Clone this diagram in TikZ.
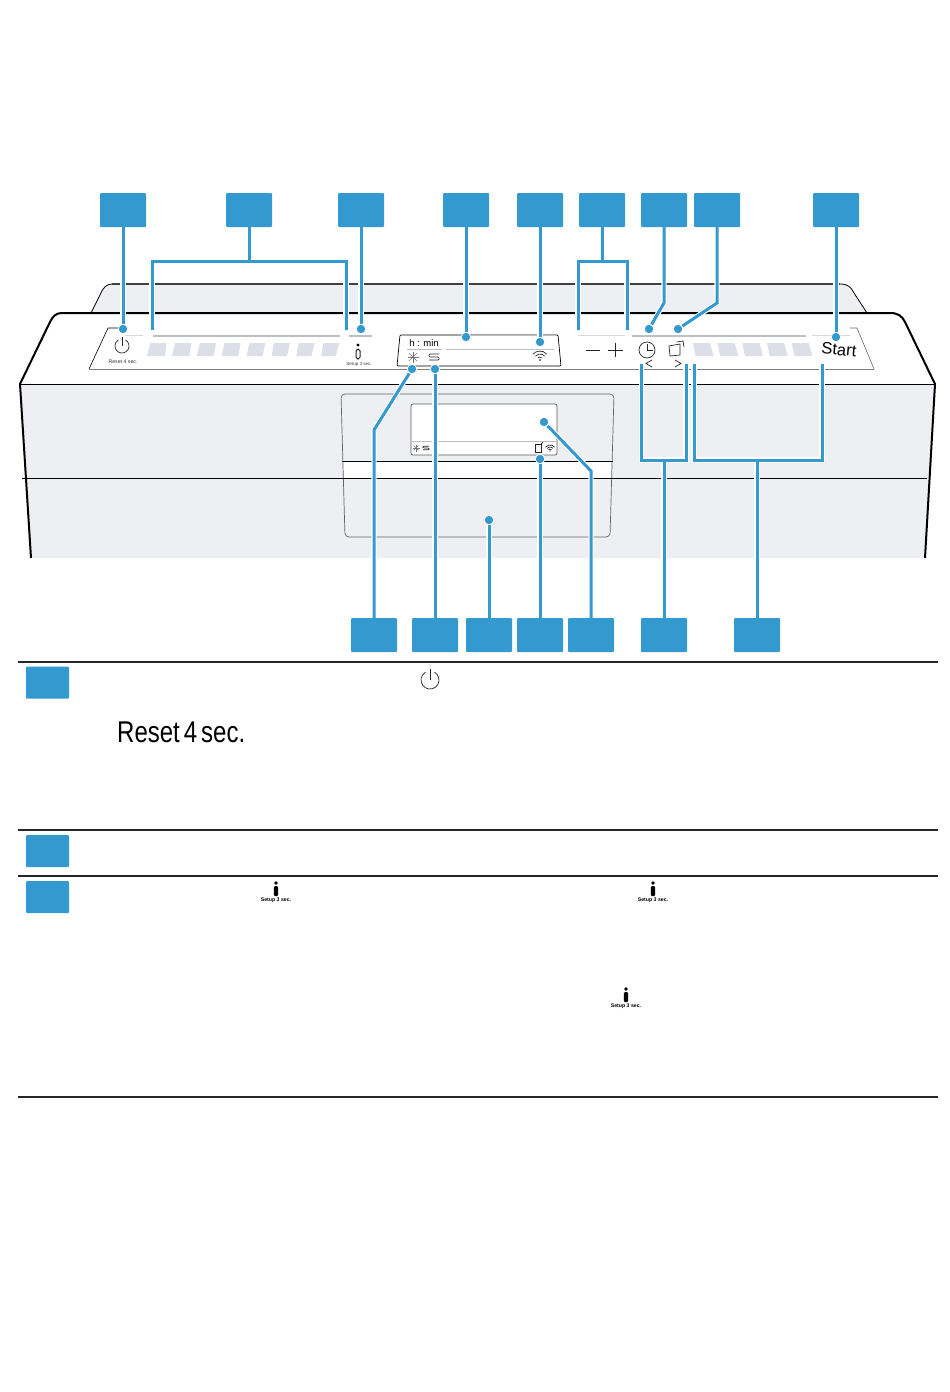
\documentclass[tikz,border=0pt]{standalone}
\usepackage{fontspec}
\setmainfont{Liberation Sans}
\newfontfamily\narrowfont[FakeStretch=0.8,WordSpace=0.6]{Liberation Sans}
\usetikzlibrary{backgrounds}
\definecolor{tagblue}{HTML}{3399CF}
\definecolor{bodygrey}{HTML}{EDEFF3}
\definecolor{bargrey}{HTML}{DCDFE7}
\definecolor{bandgrey}{HTML}{BDBFC7}
\pgfdeclarelayer{base}
\pgfdeclarelayer{wires}
\pgfsetlayers{base,wires,main}
% i symbol with its small text
\newcommand{\setupmark}[3]{
	\fill (#1,#2-7) circle[radius=1.8pt];
	\fill[rounded corners=1.2pt] (#1-2.2,#2-4) rectangle (#1+2.2,#2+6);
	\node[tinytext, font=\bfseries\fontsize{5.2}{6}\selectfont, text=black] (#3) at (#1,#2+10) {Setup 3 sec.};
}
\newcommand{\powermark}[3]{
	\draw[icon] ([shift={(60:#3pt)}]#1,#2) arc[start angle=60, delta angle=-300, radius=#3pt];
	\draw[icon] (#1,#2) -- (#1,#2-#3-2);
}
\newcommand{\wifimark}[3]{
	\foreach \r in {1,2,3} {
		\draw[icon] ([shift={(40:\r*#3 pt)}]#1,#2) arc[start angle=40, end angle=140, radius=\r*#3 pt];
	}
	\fill (#1,#2) circle[radius=#3*0.3pt];
}
\newcommand{\snowmark}[3]{
	\foreach \a in {0,45,90,135} {
		\draw[icon, draw=black!55, line width=0.5pt] ([shift={(\a:#3pt)}]#1,#2) -- ([shift={(\a+180:#3pt)}]#1,#2);
	}
}
\newcommand{\rinsemark}[3]{
	\draw[icon, rounded corners=1pt] (#1+#3,#2-#3*0.6) -- (#1-#3,#2-#3*0.6) -- (#1-#3,#2) -- (#1+#3,#2) -- (#1+#3,#2+#3*0.6) -- (#1-#3,#2+#3*0.6);
}
\begin{document}
\begin{tikzpicture}[
		x=1pt, y=-1pt,
		tagbox/.style={
				fill=tagblue,
				rounded corners=1pt,
				inner sep=0pt,
				outer sep=0pt,
				minimum width=46pt,
				minimum height=34pt
			},
		rowbox/.style={tagbox, minimum width=43pt, minimum height=32pt},
		dotmark/.style={
				circle,
				fill=tagblue,
				draw=white,
				line width=0.8pt,
				inner sep=0pt,
				minimum size=9.5pt
			},
		wire/.style={
				draw=tagblue,
				line width=3pt,
				preaction={draw=white, line width=5.2pt}
			},
		icon/.style={draw=black!85, line width=0.7pt},
		rule/.style={draw=black!85, line width=1.8pt},
		tinytext/.style={inner sep=0pt, font=\fontsize{5.2}{6}\selectfont, text=black!80}
	]
	\useasboundingbox (0,0) rectangle (950,1392);

	% appliance
	\begin{pgfonlayer}{base}
		\fill[white] (0,0) rectangle (950,1392);
		\fill[bodygrey] (91,313) -- (100,295) .. controls (103,288) and (106,284) .. (112,284) -- (840,284) .. controls (848,284) and (851,287) .. (854,293) -- (867,313) -- cycle;
		\draw[line width=0.8pt] (91,313) -- (100,295) .. controls (103,288) and (106,284) .. (112,284);
		\draw[line width=0.8pt] (840,284) .. controls (848,284) and (851,287) .. (854,293) -- (867,313);
		\draw[draw=black!75, line width=1.6pt] (112,284) -- (840,284);
		\fill[bodygrey] (21,384) -- (31,558) -- (925,558) -- (935,384) -- cycle;
		\draw[line width=2pt] (31,558) -- (20,384) -- (50,322) .. controls (53,316) and (56,313) .. (62,313) -- (890,313) .. controls (898,313) and (902,316) .. (905,322) -- (935,384) -- (925,558);
		\draw[line width=0.8pt] (20,384) -- (935,384);
		% door recess
		\fill[white] (343,461) -- (612,461) -- (611,478) -- (344,478) -- cycle;
		\draw[line width=0.7pt, draw=black!60, rounded corners=4pt] (341,394) -- (614,394) -- (610,537) -- (345,537) -- cycle;
		\draw[line width=0.8pt] (342,461) -- (613,461);
		\draw[line width=0.8pt] (22,478) -- (927,478);
		\draw[fill=white, draw=black!65, line width=0.7pt, rounded corners=2pt] (411,404) rectangle (557,455);
		\draw[draw=black!25, line width=0.7pt] (411,441) -- (557,441);
		% control panel
		\draw[line width=0.6pt] (120,328) -- (108,328) -- (89,369);
		\draw[draw=black!50, line width=0.9pt] (89,369) -- (874,369);
		\draw[draw=black!60, line width=0.6pt] (874,369) -- (857,328) -- (850,328);
		\draw[draw=black!15, line width=1pt] (125,335) -- (143,335) (578,335) -- (625,335) (812,335) -- (850,335);
		\draw[draw=bandgrey, line width=1.6pt] (153,336) -- (340,336) (349,336) -- (372,336) (632,336) -- (806,336);
		\foreach \i in {0,...,7} {
			\fill[bargrey] (147+\i*24.9,356) -- ++(3.5-\i*0.2,-13) -- ++(16,0) -- ++(-1.5-\i*0.3,13) -- cycle;
		}
		\foreach \i in {0,...,4} {
			\fill[bargrey] (693+\i*24.7,343) -- ++(17,0) -- ++(3.5,13) -- ++(-18,0) -- cycle;
		}
		% display
		\draw[line width=0.7pt, rounded corners=1pt, fill=white] (400,335) -- (558,335) -- (561,366) -- (397,366) -- cycle;
		\draw[draw=bandgrey, line width=1pt] (407,349) -- (442,349) (446,349) -- (554,349) (470,335.5) -- (556,335.5);
		% symbols
		\powermark{122}{346}{7}
		\powermark{430}{680}{9}
		\snowmark{413}{357}{5.5}
		\rinsemark{434}{357}{5}
		\wifimark{540}{360}{3}
		\snowmark{416}{448}{3.5}
		\rinsemark{426}{448}{3}
		\wifimark{550}{451}{2}
		\draw[icon] (535,444) rectangle (541,452);
		\draw[icon] (541,444) -- (543,442);
		\draw[icon, line width=1pt, rounded corners=1.8pt] (356,349) rectangle (360,359);
		\fill (358,345) circle[radius=1.6pt];
		\draw[icon] (586,350) -- (600,350) (608,350) -- (623,350) (615.5,343) -- (615.5,357);
		\draw[icon] (647,350) circle[radius=8pt];
		\draw[icon] (647,344) -- (647,350) -- (653,350);
		\draw[icon] (669,346) -- (680,344) -- (680,355) -- (670,356) -- cycle;
		\draw[icon] (677,342) -- (683,341) -- (684,347);
		\draw[icon] (652,360) -- (646,363.5) -- (652,367);
		\draw[icon] (675,360) -- (681,363.5) -- (675,367);
		% table rules
		\draw[rule] (18,662) -- (938,662);
		\draw[rule] (18,830) -- (938,830);
		\draw[rule] (18,876) -- (938,876);
		\draw[rule] (18,1097) -- (938,1097);
		\setupmark{276}{890}{setupleft}
		\setupmark{653}{890}{setupright}
		\setupmark{626}{996}{setuplower}
	\end{pgfonlayer}

	% texts
	\node[tinytext] (resetsmall) at (123,362) {Reset 4 sec.};
	\node[tinytext, font=\fontsize{4.5}{5}\selectfont] (setupsmall) at (359,364) {Setup 3 sec.};
	\node[inner sep=0pt, font=\fontsize{9.5}{10}\selectfont] (hmin) at (424,343) {h : min};
	\node[inner sep=0pt, font=\fontsize{16.5}{17}\selectfont, rotate=-5] (starttext) at (839,349.5) {Start};
	\node[inner sep=0pt, anchor=base west, font=\narrowfont\fontsize{30}{32}\selectfont] (resetlarge) at (117,742) {Reset 4 sec.};

	% blue tags
	\foreach \name/\xpos in {power/123, fork/249, setup/361, clock/466, wifi/540, plus/602, timer/664, remote/717, start/836} {
		\node[tagbox] (tag\name) at (\xpos,210) {};
	}
	\foreach \name/\xpos in {snow/374, rinse/435, door/489, status/540, screen/591, arrows/664, bars/757} {
		\node[tagbox] (tag\name) at (\xpos,635) {};
	}
	\node[rowbox] (rowreset) at (47.5,682.5) {};
	\node[rowbox] (rowmiddle) at (47.5,851) {};
	\node[rowbox] (rowsetup) at (47.5,897) {};

	% end points
	\foreach \name/\xpos/\ypos in {power/123/329, setup/361/329, clock/466/337, wifi/540/342, timer/649/329, remote/678/329, start/836/337, snow/412/369, rinse/435/369, door/489/520, status/540/459, screen/544/422} {
		\node[dotmark] (dot\name) at (\xpos,\ypos) {};
	}
	\coordinate (forkleft) at (152,330);
	\coordinate (forkright) at (346,330);
	\coordinate (forkjoin) at (249,261);
	\coordinate (plusleft) at (578,330);
	\coordinate (plusright) at (627,330);
	\coordinate (plusjoin) at (602,261);
	\coordinate (arrowsleft) at (641.5,364);
	\coordinate (arrowsright) at (686,364);
	\coordinate (arrowsjoin) at (664,460);
	\coordinate (barsleft) at (694,364);
	\coordinate (barsright) at (822,364);
	\coordinate (barsjoin) at (757,460);
	\coordinate (timerbend) at (664,303);
	\coordinate (remotebend) at (717,303);
	\coordinate (snowbend) at (374,430);
	\coordinate (screenbend) at (591,471);

	% connectors
	\begin{pgfonlayer}{wires}
		\foreach \name in {power, setup, clock, wifi, start} {
			\draw[wire] (tag\name.south) -- (dot\name);
		}
		\foreach \name in {rinse, door, status} {
			\draw[wire] (tag\name.north) -- (dot\name);
		}
		\draw[wire] (forkleft) |- (forkjoin) -| (forkright) (tagfork.south) -- (forkjoin);
		\draw[wire] (plusleft) |- (plusjoin) -| (plusright) (tagplus.south) -- (plusjoin);
		\draw[wire] (tagtimer.south) -- (timerbend) -- (dottimer);
		\draw[wire] (tagremote.south) -- (remotebend) -- (dotremote);
		\draw[wire] (tagsnow.north) -- (snowbend) -- (dotsnow);
		\draw[wire] (tagscreen.north) -- (screenbend) -- (dotscreen);
		\draw[wire] (arrowsleft) |- (arrowsjoin) -| (arrowsright) (tagarrows.north) -- (arrowsjoin);
		\draw[wire] (barsleft) |- (barsjoin) -| (barsright) (tagbars.north) -- (barsjoin);
	\end{pgfonlayer}
\end{tikzpicture}
\end{document}
